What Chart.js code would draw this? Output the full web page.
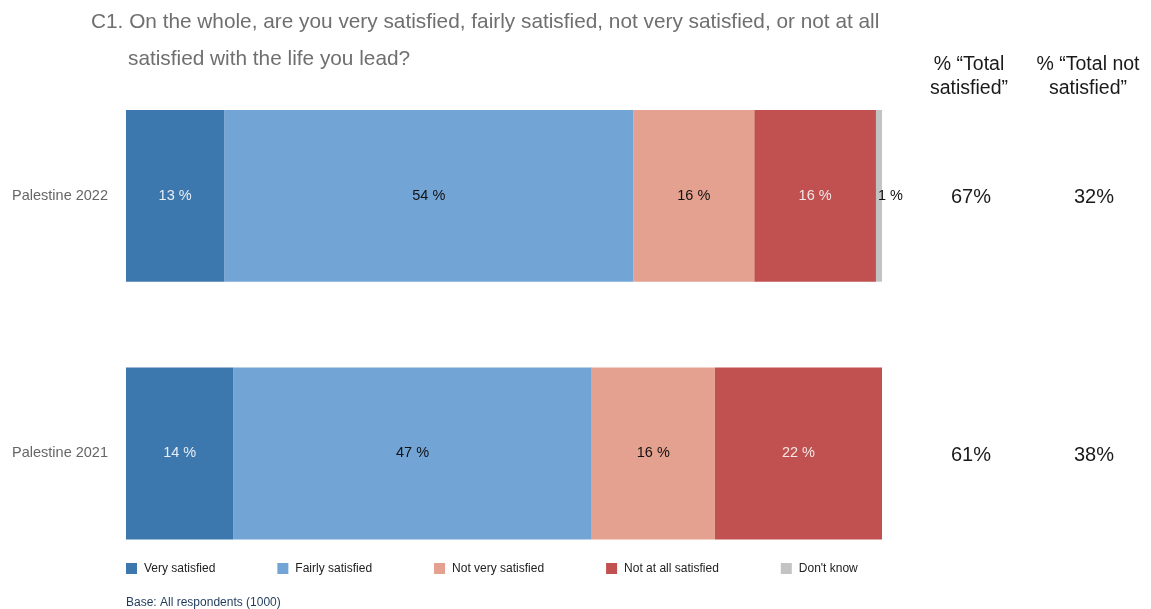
<!DOCTYPE html>
<html>
<head>
<meta charset="utf-8">
<script src="https://cdn.jsdelivr.net/npm/chart.js@4.4.0/dist/chart.umd.min.js"></script>
<style>
  body { margin: 0; background: #fff; }
  canvas { display: block; }
</style>
</head>
<body>
<canvas id="lifeChart" width="1151" height="609"></canvas>
<script>
// categories and series (percent of respondents)
const categories = ['Palestine 2022', 'Palestine 2021'];
const verySatisfied = [13, 14.2];
const fairlySatisfied = [54.1, 47.4];
const notVerySatisfied = [16, 16.3];
const notAtAllSatisfied = [16.1, 22.1];
const dontKnow = [0.8, 0];

// summary columns on the right
const totalSatisfied = ['67%', '61%'];
const totalNotSatisfied = ['32%', '38%'];

const seriesNames = ['Very satisfied', 'Fairly satisfied', 'Not very satisfied', 'Not at all satisfied', "Don't know"];
const seriesColors = ['#3c77ae', '#72a5d6', '#e5a190', '#c05150', '#c3c3c3'];
const labelColors = ['#e9eff6', '#111111', '#111111', '#f3e6e6', '#111111'];

const FONT = '"Liberation Sans", Arial, sans-serif';

// draws the % labels inside the bars
const barLabels = {
    id: 'barLabels',
    afterDatasetsDraw(chart) {
        const ctx = chart.ctx;
        ctx.save();
        ctx.font = '14.5px ' + FONT;
        ctx.textBaseline = 'middle';
        chart.data.datasets.forEach((ds, di) => {
            const meta = chart.getDatasetMeta(di);
            meta.data.forEach((bar, i) => {
                const v = ds.data[i];
                if (!v) return;
                const txt = Math.round(v) + ' %';
                if (v < 3) {
                    // tiny segment: label sits just past the end
                    ctx.fillStyle = '#111';
                    ctx.textAlign = 'left';
                    ctx.fillText(txt, bar.x - 4, bar.y);
                } else {
                    ctx.fillStyle = labelColors[di];
                    ctx.textAlign = 'center';
                    ctx.fillText(txt, (bar.x + bar.base) / 2, bar.y);
                }
            });
        });
        ctx.restore();
    }
};

// title, right hand columns, legend and base note
const extras = {
    id: 'extras',
    afterDraw(chart) {
        const ctx = chart.ctx;
        const y = chart.scales.y;
        ctx.save();

        ctx.fillStyle = '#6f6f6f';
        ctx.font = '20.8px ' + FONT;
        ctx.textAlign = 'left';
        ctx.textBaseline = 'alphabetic';
        ctx.fillText('C1. On the whole, are you very satisfied, fairly satisfied, not very satisfied, or not at all', 91, 28);
        ctx.fillText('satisfied with the life you lead?', 128, 65);

        ctx.fillStyle = '#1a1a1a';
        ctx.font = '19.5px ' + FONT;
        ctx.textAlign = 'center';
        ctx.fillText('% \u201cTotal', 969, 70);
        ctx.fillText('satisfied\u201d', 969, 94);
        ctx.fillText('% \u201cTotal not', 1088, 70);
        ctx.fillText('satisfied\u201d', 1088, 94);

        ctx.font = '20px ' + FONT;
        ctx.textBaseline = 'middle';
        categories.forEach((c, i) => {
            const py = y.getPixelForValue(i) + 2;
            ctx.fillText(totalSatisfied[i], 971, py);
            ctx.fillText(totalNotSatisfied[i], 1094, py);
        });

        // legend
        ctx.font = '12px ' + FONT;
        ctx.textAlign = 'left';
        let lx = chart.chartArea.left;
        const ly = 568;
        chart.data.datasets.forEach((ds) => {
            ctx.fillStyle = ds.backgroundColor;
            ctx.fillRect(lx, ly - 5, 11, 11);
            ctx.fillStyle = '#222';
            ctx.fillText(ds.label, lx + 18, ly + 1);
            lx += 18 + ctx.measureText(ds.label).width + 62;
        });

        ctx.fillStyle = '#1f3a5c';
        ctx.fillText('Base: All respondents (1000)', 126, 603);
        ctx.restore();
    }
};

const seriesData = [verySatisfied, fairlySatisfied, notVerySatisfied, notAtAllSatisfied, dontKnow];

new Chart(document.getElementById('lifeChart'), {
    type: 'bar',
    data: {
        labels: categories,
        datasets: seriesData.map((d, i) => ({
            label: seriesNames[i],
            data: d,
            backgroundColor: seriesColors[i],
            borderWidth: 0,
            barPercentage: 1,
            categoryPercentage: 0.667
        }))
    },
    options: {
        indexAxis: 'y',
        responsive: false,
        animation: false,
        layout: { padding: { top: 67, bottom: 26, right: 269, left: 0 } },
        plugins: {
            legend: { display: false },
            tooltip: { enabled: false }
        },
        scales: {
            x: { stacked: true, min: 0, max: 100, display: false },
            y: {
                stacked: true,
                grid: { display: false, drawTicks: false },
                border: { display: false },
                ticks: { color: '#666', font: { size: 14.5, family: FONT }, padding: 18 },
                afterFit(scale) { scale.width = 126; }
            }
        }
    },
    plugins: [barLabels, extras]
});
</script>
</body>
</html>
